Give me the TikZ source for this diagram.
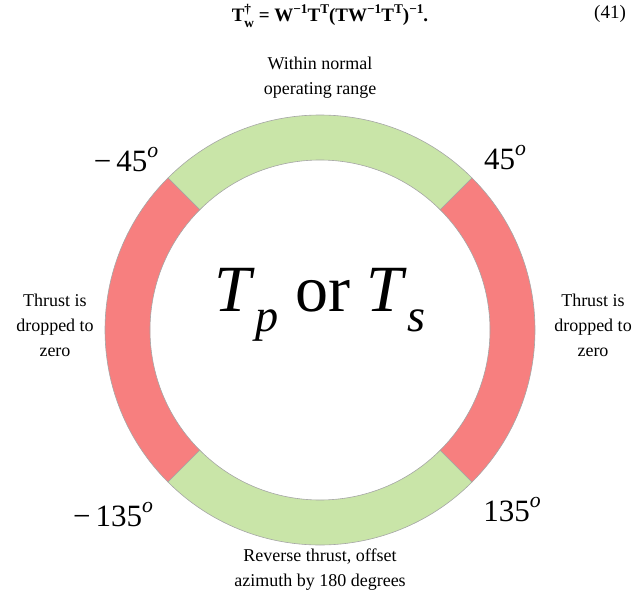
\documentclass[tikz,border=0pt]{standalone}
\usepackage{fontspec}
\setmainfont{Liberation Serif}
\usetikzlibrary{calc}
\newcommand{\mysup}[1]{\raisebox{0.45em}{\scalebox{0.7}{#1}}}
\newcommand{\mysub}[1]{\raisebox{-0.3em}{\scalebox{0.7}{#1}}}
\begin{document}
\begin{tikzpicture}[x=1pt,y=-1pt,
  lbl/.style={font=\fontsize{18}{25}\selectfont,align=center},
  ang/.style={font=\fontsize{31}{31}\selectfont},
  seg/.style={draw=gray!70,line width=0.6pt}]
\useasboundingbox (0,0) rectangle (640,602);
\definecolor{gr}{HTML}{C9E5A8}\definecolor{rd}{HTML}{F77F7F}
\coordinate (c) at (320,330);
\def\R{215}\def\r{170}
\foreach \a/\b/\col in {45/135/gr,135/225/rd,225/315/gr,-45/45/rd}{
  \fill[\col,seg] ($(c)+({cos(\a)*\R},{-sin(\a)*\R})$) arc[start angle=-\a,end angle=-\b,radius=\R]
   -- ($(c)+({cos(\b)*\r},{-sin(\b)*\r})$) arc[start angle=-\b,end angle=-\a,radius=\r] -- cycle;
}
\node[font=\fontsize{19}{20}\selectfont\bfseries] (eq) at (330,16) {T\rlap{\mysup{†}}\mysub{w} = W\mysup{−1}T\mysup{T}(TW\mysup{−1}T\mysup{T})\mysup{−1}.};
\node[font=\fontsize{19}{20}\selectfont] (num) at (610,14) {(41)};
\node[lbl] (top) at (320,78) {Within normal\\operating range};
\node[lbl] (left) at (55,325) {Thrust is\\dropped to\\zero};
\node[lbl] (right) at (593,325) {Thrust is\\dropped to\\zero};
\node[lbl] (bot) at (320,570) {Reverse thrust, offset\\azimuth by 180 degrees};
\node[ang] (a1) at (126,160) {−\,45\mysup{\textit{o}}};
\node[ang] (a2) at (505,158) {45\mysup{\textit{o}}};
\node[ang] (a3) at (113,515) {−\,135\mysup{\textit{o}}};
\node[ang] (a4) at (512,510) {135\mysup{\textit{o}}};
\node[font=\fontsize{66}{66}\selectfont] (tp) at (320,305) {\textit{T}\mysub{\textit{p}} or \textit{T}\mysub{\textit{s}}};
\end{tikzpicture}
\end{document}
